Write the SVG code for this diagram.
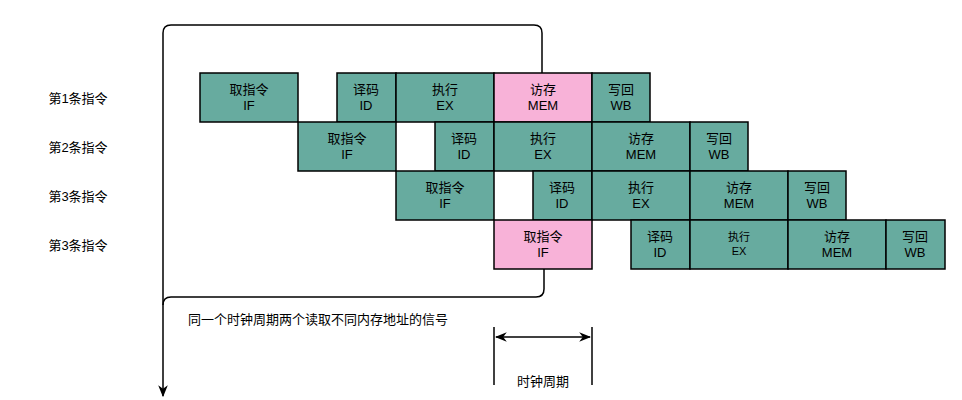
<svg xmlns="http://www.w3.org/2000/svg" width="962" height="400" viewBox="0 0 962 400">
<style>
text{font-family:"Liberation Sans","Noto Sans CJK SC",sans-serif;font-size:13px;fill:#000;text-anchor:middle}
.lbl{text-anchor:start}
.g rect{fill:#67AB9F;stroke:#000;stroke-width:1.5}
.p rect{fill:#F8B2D8;stroke:#000;stroke-width:1.5}
.ln{fill:none;stroke:#000;stroke-width:1.5}
</style>
<defs>
<marker id="ah" viewBox="0 0 10 10" refX="9" refY="5" markerWidth="8" markerHeight="8" orient="auto-start-reverse"><path d="M0,1 L10,5 L0,9 L3,5 z" fill="#000"/></marker>
</defs>
<g id="rowlabels">
<text x="78" y="103">第1条指令</text><text x="78" y="152">第2条指令</text><text x="78" y="201">第3条指令</text><text x="78" y="250">第3条指令</text>
</g>
<g id="connectors">
<path class="ln" d="M542,73 V33 Q542,25 534,25 H171 Q163,25 163,33 V396" marker-end="url(#ah)"/>
<path class="ln" d="M544,269 V289 Q544,297 536,297 H171 Q163,297 163,305"/>
<line class="ln" x1="494" y1="327" x2="494" y2="385"/>
<line class="ln" x1="592" y1="327" x2="592" y2="385"/>
<line class="ln" x1="496" y1="337" x2="590" y2="337" marker-start="url(#ah)" marker-end="url(#ah)"/>
</g>
<text class="lbl" x="188" y="324">同一个时钟周期两个读取不同内存地址的信号</text>
<text x="543" y="386">时钟周期</text>
<g id="r1">
<g class="g"><rect x="200" y="73" width="98" height="49"/><text x="249" y="94">取指令</text><text x="249" y="110">IF</text></g>
<g class="g"><rect x="337" y="73" width="59" height="49"/><text x="366" y="94">译码</text><text x="366" y="110">ID</text></g>
<g class="g"><rect x="396" y="73" width="98" height="49"/><text x="445" y="94">执行</text><text x="445" y="110">EX</text></g>
<g class="p"><rect x="494" y="73" width="98" height="49"/><text x="543" y="94">访存</text><text x="543" y="110">MEM</text></g>
<g class="g"><rect x="592" y="73" width="58" height="49"/><text x="621" y="94">写回</text><text x="621" y="110">WB</text></g>
</g>
<g id="r2">
<g class="g"><rect x="298" y="122" width="98" height="49"/><text x="347" y="143">取指令</text><text x="347" y="159">IF</text></g>
<g class="g"><rect x="435" y="122" width="59" height="49"/><text x="464" y="143">译码</text><text x="464" y="159">ID</text></g>
<g class="g"><rect x="494" y="122" width="98" height="49"/><text x="543" y="143">执行</text><text x="543" y="159">EX</text></g>
<g class="g"><rect x="592" y="122" width="98" height="49"/><text x="641" y="143">访存</text><text x="641" y="159">MEM</text></g>
<g class="g"><rect x="690" y="122" width="58" height="49"/><text x="719" y="143">写回</text><text x="719" y="159">WB</text></g>
</g>
<g id="r3">
<g class="g"><rect x="396" y="171" width="98" height="49"/><text x="445" y="192">取指令</text><text x="445" y="208">IF</text></g>
<g class="g"><rect x="533" y="171" width="59" height="49"/><text x="562" y="192">译码</text><text x="562" y="208">ID</text></g>
<g class="g"><rect x="592" y="171" width="98" height="49"/><text x="641" y="192">执行</text><text x="641" y="208">EX</text></g>
<g class="g"><rect x="690" y="171" width="98" height="49"/><text x="739" y="192">访存</text><text x="739" y="208">MEM</text></g>
<g class="g"><rect x="788" y="171" width="58" height="49"/><text x="817" y="192">写回</text><text x="817" y="208">WB</text></g>
</g>
<g id="r4">
<g class="p"><rect x="494" y="220" width="98" height="49"/><text x="543" y="241">取指令</text><text x="543" y="257">IF</text></g>
<g class="g"><rect x="631" y="220" width="59" height="49"/><text x="660" y="241">译码</text><text x="660" y="257">ID</text></g>
<g class="g"><rect x="690" y="220" width="98" height="49"/><text x="739" y="241" style="font-size:11px">执行</text><text x="739" y="255" style="font-size:11px">EX</text></g>
<g class="g"><rect x="788" y="220" width="98" height="49"/><text x="837" y="241">访存</text><text x="837" y="257">MEM</text></g>
<g class="g"><rect x="886" y="220" width="59" height="49"/><text x="915" y="241">写回</text><text x="915" y="257">WB</text></g>
</g>
</svg>
